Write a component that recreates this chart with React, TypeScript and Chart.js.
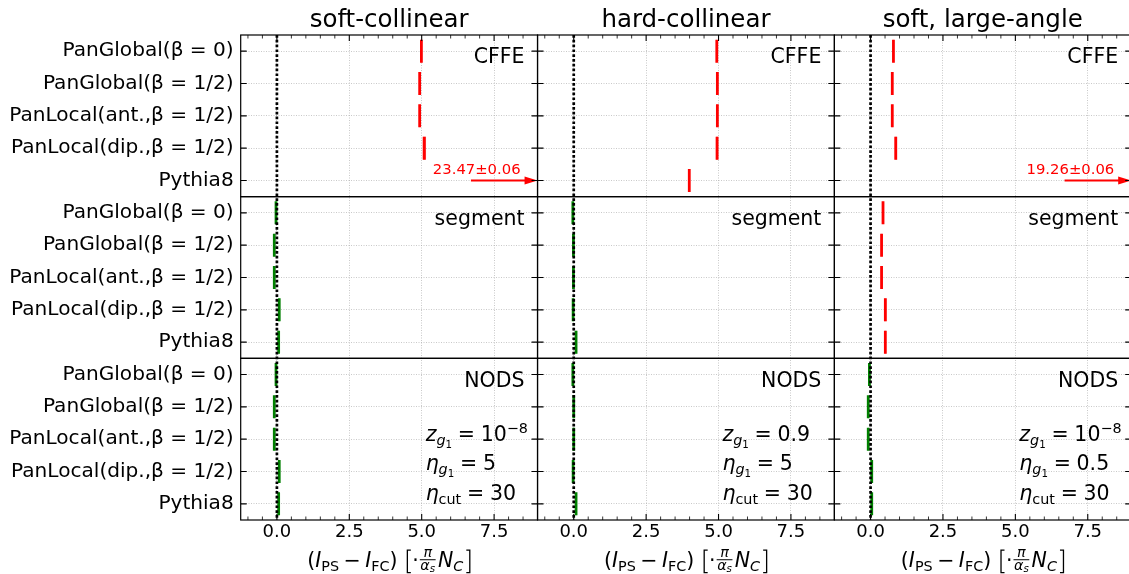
import React, { useEffect, useRef } from 'react';
import { Chart, registerables } from 'chart.js';

Chart.register(...registerables);

const FAM = "'DejaVu Sans', 'Liberation Sans', sans-serif";

// ---- categories / labels ----
const COLUMNS = ['soft-collinear', 'hard-collinear', 'soft, large-angle'];
const ROWS = ['CFFE', 'segment', 'NODS'];
const SHOWERS = [
  'PanGlobal(β = 0)',
  'PanGlobal(β = 1/2)',
  'PanLocal(ant.,β = 1/2)',
  'PanLocal(dip.,β = 1/2)',
  'Pythia8',
];
const X_TICKS = [0, 2.5, 5, 7.5];

// ---- values: (I_PS - I_FC), one array per panel, order = SHOWERS ----
const SOFT_COLL_CFFE = [4.99, 4.93, 4.93, 5.09, 23.47];
const SOFT_COLL_SEGMENT = [-0.03, -0.09, -0.09, 0.08, 0.06];
const SOFT_COLL_NODS = [-0.03, -0.09, -0.09, 0.08, 0.06];
const HARD_COLL_CFFE = [4.94, 4.96, 4.96, 4.95, 3.99];
const HARD_COLL_SEGMENT = [-0.03, -0.01, -0.01, -0.02, 0.08];
const HARD_COLL_NODS = [-0.03, 0.0, 0.0, -0.02, 0.08];
const SOFT_WIDE_CFFE = [0.79, 0.75, 0.75, 0.87, 19.26];
const SOFT_WIDE_SEGMENT = [0.43, 0.38, 0.38, 0.51, 0.51];
const SOFT_WIDE_NODS = [-0.04, -0.08, -0.08, 0.04, 0.04];

// ---- statistical errors ----
const SOFT_COLL_CFFE_ERR = [0.01, 0.01, 0.01, 0.06, 0.06];
const SOFT_COLL_SEGMENT_ERR = [0.01, 0.01, 0.01, 0.03, 0.02];
const SOFT_COLL_NODS_ERR = [0.01, 0.01, 0.01, 0.03, 0.02];
const HARD_COLL_CFFE_ERR = [0.01, 0.01, 0.01, 0.04, 0.01];
const HARD_COLL_SEGMENT_ERR = [0.01, 0.01, 0.01, 0.03, 0.02];
const HARD_COLL_NODS_ERR = [0.01, 0.01, 0.01, 0.03, 0.02];
const SOFT_WIDE_CFFE_ERR = [0.01, 0.01, 0.01, 0.04, 0.06];
const SOFT_WIDE_SEGMENT_ERR = [0.01, 0.01, 0.01, 0.04, 0.02];
const SOFT_WIDE_NODS_ERR = [0.01, 0.01, 0.01, 0.03, 0.02];

const VALUES = [
  [SOFT_COLL_CFFE, SOFT_COLL_SEGMENT, SOFT_COLL_NODS],
  [HARD_COLL_CFFE, HARD_COLL_SEGMENT, HARD_COLL_NODS],
  [SOFT_WIDE_CFFE, SOFT_WIDE_SEGMENT, SOFT_WIDE_NODS],
];
const ERRORS = [
  [SOFT_COLL_CFFE_ERR, SOFT_COLL_SEGMENT_ERR, SOFT_COLL_NODS_ERR],
  [HARD_COLL_CFFE_ERR, HARD_COLL_SEGMENT_ERR, HARD_COLL_NODS_ERR],
  [SOFT_WIDE_CFFE_ERR, SOFT_WIDE_SEGMENT_ERR, SOFT_WIDE_NODS_ERR],
];

const RED = '#ff0000';
const GREEN = '#008000';
const RED_BAND = 'rgba(255,0,0,0.45)';
const GREEN_BAND = 'rgba(0,128,0,0.45)';
// colour of each panel [column][row]
const PANEL_COLORS = [
  [RED, GREEN, GREEN],
  [RED, GREEN, GREEN],
  [RED, RED, GREEN],
];

// NODS cut parameters per column
const Z_G1_BASE = ['10', '0.9', '10'];
const Z_G1_EXP = ['−8', '', '−8'];
const ETA_G1 = ['5', '5', '0.5'];
const ETA_CUT = ['30', '30', '30'];

const X_MIN = -1.25;
const X_MAX = 9;
const MINOR = 0.5;
const MAJOR = 2.5;
const ARROW_FROM = 6.7;
const ARROW_LABEL_X = 6.9;

const FS = 20.5;
const GRID = 'rgba(165,165,165,0.75)';

// text run: t = text, it = italic, s = size factor, dy = baseline shift (em), sp = pure space (em)
type Run = { t?: string; it?: boolean; s?: number; dy?: number; sp?: number };

function runFont(fs: number, r: Run) {
  return `${r.it ? 'italic ' : ''}${(fs * (r.s ?? 1)).toFixed(2)}px ${FAM}`;
}
function runWidth(ctx: CanvasRenderingContext2D, r: Run, fs: number) {
  if (r.sp !== undefined) return r.sp * fs;
  ctx.font = runFont(fs, r);
  return ctx.measureText(r.t ?? '').width;
}
function measureRuns(ctx: CanvasRenderingContext2D, runs: Run[], fs: number) {
  let w = 0;
  for (const r of runs) w += runWidth(ctx, r, fs);
  return w;
}
function drawRuns(ctx: CanvasRenderingContext2D, runs: Run[], x: number, y: number, fs: number) {
  let cx = x;
  for (const r of runs) {
    if (r.sp === undefined) {
      ctx.font = runFont(fs, r);
      ctx.fillText(r.t ?? '', cx, y + (r.dy ?? 0) * fs);
    }
    cx += runWidth(ctx, r, fs);
  }
  return cx;
}

function drawBracket(ctx: CanvasRenderingContext2D, x: number, top: number, bot: number, w: number, left: boolean) {
  ctx.beginPath();
  if (left) {
    ctx.moveTo(x + w, top);
    ctx.lineTo(x, top);
    ctx.lineTo(x, bot);
    ctx.lineTo(x + w, bot);
  } else {
    ctx.moveTo(x - w, top);
    ctx.lineTo(x, top);
    ctx.lineTo(x, bot);
    ctx.lineTo(x - w, bot);
  }
  ctx.stroke();
}

function drawXLabel(ctx: CanvasRenderingContext2D, cx: number, base: number, fs: number) {
  const A: Run[] = [
    { t: '(' },
    { t: 'I', it: true },
    { t: 'PS', s: 0.7, dy: 0.22 },
    { sp: 0.22 },
    { t: '−' },
    { sp: 0.22 },
    { t: 'I', it: true },
    { t: 'FC', s: 0.7, dy: 0.22 },
    { t: ')' },
  ];
  const num: Run[] = [{ t: 'π', it: true, s: 0.7 }];
  const den: Run[] = [
    { t: 'α', it: true, s: 0.7 },
    { t: 's', it: true, s: 0.5, dy: 0.12 },
  ];
  const B: Run[] = [
    { t: 'N', it: true },
    { t: 'C', it: true, s: 0.7, dy: 0.22 },
  ];
  const wA = measureRuns(ctx, A, fs);
  ctx.font = `${fs}px ${FAM}`;
  const wDot = ctx.measureText('·').width;
  const wNum = measureRuns(ctx, num, fs);
  const wDen = measureRuns(ctx, den, fs);
  const wFrac = Math.max(wNum, wDen) + 0.15 * fs;
  const wB = measureRuns(ctx, B, fs);
  const gap = 0.42 * fs;
  const brW = 0.3 * fs;
  const total = wA + gap + brW + wDot + wFrac + 0.06 * fs + wB + 0.08 * fs + brW;
  let x = cx - total / 2;
  x = drawRuns(ctx, A, x, base, fs);
  x += gap;
  const bt = base - 0.8 * fs;
  const bb = base + 0.3 * fs;
  ctx.lineWidth = 1.3;
  ctx.strokeStyle = '#000';
  drawBracket(ctx, x + 0.06 * fs, bt, bb, 0.17 * fs, true);
  x += brW;
  ctx.font = `${fs}px ${FAM}`;
  ctx.fillText('·', x, base);
  x += wDot;
  const barY = base - 0.33 * fs;
  ctx.fillRect(x + 0.05 * fs, barY - 0.5, wFrac - 0.1 * fs, 1);
  drawRuns(ctx, num, x + (wFrac - wNum) / 2, barY - 0.12 * fs, fs);
  drawRuns(ctx, den, x + (wFrac - wDen) / 2, barY + 0.5 * fs, fs);
  x += wFrac + 0.06 * fs;
  x = drawRuns(ctx, B, x, base, fs);
  x += 0.08 * fs;
  drawBracket(ctx, x + brW - 0.06 * fs, bt, bb, 0.17 * fs, false);
}

const EQ: Run[] = [{ sp: 0.28 }, { t: '=' }, { sp: 0.28 }];

const decor = {
  id: 'decor',
  afterDatasetsDraw(chart: any) {
    const ctx: CanvasRenderingContext2D = chart.ctx;
    const ca = chart.chartArea;
    ctx.save();
    COLUMNS.forEach((_, c) => {
      const xs = chart.scales['x' + c];
      const px = xs.getPixelForValue(0);
      ctx.strokeStyle = '#000';
      ctx.lineWidth = 2.7;
      ctx.setLineDash([2.7, 2.1]);
      ctx.beginPath();
      ctx.moveTo(px, ca.top);
      ctx.lineTo(px, ca.bottom);
      ctx.stroke();
      ctx.setLineDash([]);
      ROWS.forEach((__, r) => {
        const ys = chart.scales['y' + r];
        const color = PANEL_COLORS[c][r];
        VALUES[c][r].forEach((v, i) => {
          if (v <= X_MAX) return;
          const y = ys.getPixelForValue(i);
          const x1 = xs.getPixelForValue(ARROW_FROM);
          const x2 = xs.right;
          ctx.save();
          ctx.beginPath();
          ctx.rect(xs.left, ys.top, xs.right - xs.left, ys.bottom - ys.top);
          ctx.clip();
          ctx.strokeStyle = color;
          ctx.fillStyle = color;
          ctx.lineWidth = 2.2;
          ctx.beginPath();
          ctx.moveTo(x1, y);
          ctx.lineTo(x2 - 11, y);
          ctx.stroke();
          ctx.beginPath();
          ctx.moveTo(x2, y);
          ctx.lineTo(x2 - 13, y - 4);
          ctx.lineTo(x2 - 13, y + 4);
          ctx.closePath();
          ctx.fill();
          ctx.restore();
          ctx.fillStyle = color;
          ctx.font = `14.8px ${FAM}`;
          ctx.textAlign = 'center';
          ctx.textBaseline = 'alphabetic';
          ctx.fillText(
            `${v.toFixed(2)}±${ERRORS[c][r][i].toFixed(2)}`,
            xs.getPixelForValue(ARROW_LABEL_X),
            y - 7
          );
        });
      });
    });
    ctx.restore();
  },
  afterDraw(chart: any) {
    const ctx: CanvasRenderingContext2D = chart.ctx;
    ctx.save();
    const xsA = COLUMNS.map((_, c) => chart.scales['x' + c]);
    const ysA = ROWS.map((_, r) => chart.scales['y' + r]);
    ctx.strokeStyle = '#000';
    ctx.fillStyle = '#000';
    ctx.setLineDash([]);
    xsA.forEach((xs) =>
      ysA.forEach((ys) => {
        ctx.lineWidth = 1.2;
        ctx.strokeRect(xs.left, ys.top, xs.right - xs.left, ys.bottom - ys.top);
        ctx.lineWidth = 1.1;
        ctx.beginPath();
        SHOWERS.forEach((__, i) => {
          const y = ys.getPixelForValue(i);
          ctx.moveTo(xs.left, y);
          ctx.lineTo(xs.left + 6, y);
          ctx.moveTo(xs.right - 6, y);
          ctx.lineTo(xs.right, y);
        });
        ctx.stroke();
      })
    );
    const top = ysA[0].top;
    const bot = ysA[ysA.length - 1].bottom;
    xsA.forEach((xs) => {
      for (let k = Math.ceil(X_MIN / MINOR); k * MINOR < X_MAX; k++) {
        const v = k * MINOR;
        const major = Math.abs(v / MAJOR - Math.round(v / MAJOR)) < 1e-9;
        const len = major ? 6 : 3.5;
        const x = xs.getPixelForValue(v);
        ctx.lineWidth = major ? 1.1 : 0.8;
        ctx.beginPath();
        ctx.moveTo(x, top);
        ctx.lineTo(x, top + len);
        ctx.moveTo(x, bot);
        ctx.lineTo(x, bot - len);
        ctx.stroke();
      }
    });
    ctx.textBaseline = 'alphabetic';
    xsA.forEach((xs, c) => {
      const cx = (xs.left + xs.right) / 2;
      ctx.textAlign = 'center';
      ctx.font = `24.5px ${FAM}`;
      ctx.fillText(COLUMNS[c], cx, top - 8.3);
      ctx.textAlign = 'right';
      ctx.font = `${FS}px ${FAM}`;
      ysA.forEach((ys, r) => {
        ctx.fillText(ROWS[r], xs.right - 13, ys.top + 28.4);
      });
      ctx.textAlign = 'left';
      const ys = ysA[2];
      const lx = xs.left + 0.623 * (xs.right - xs.left);
      const zRuns: Run[] = [
        { t: 'z', it: true },
        { t: 'g', it: true, s: 0.7, dy: 0.2 },
        { t: '1', s: 0.5, dy: 0.33 },
        ...EQ,
        { t: Z_G1_BASE[c] },
      ];
      if (Z_G1_EXP[c]) zRuns.push({ t: Z_G1_EXP[c], s: 0.7, dy: -0.42 });
      drawRuns(ctx, zRuns, lx, ys.top + 83, FS);
      drawRuns(
        ctx,
        [
          { t: 'η', it: true },
          { t: 'g', it: true, s: 0.7, dy: 0.2 },
          { t: '1', s: 0.5, dy: 0.33 },
          ...EQ,
          { t: ETA_G1[c] },
        ],
        lx,
        ys.top + 112,
        FS
      );
      drawRuns(
        ctx,
        [{ t: 'η', it: true }, { t: 'cut', s: 0.7, dy: 0.2 }, ...EQ, { t: ETA_CUT[c] }],
        lx,
        ys.top + 141.7,
        FS
      );
      drawXLabel(ctx, cx, 566.5, FS);
    });
    ctx.restore();
  },
};

export default function App() {
  const ref = useRef<HTMLCanvasElement>(null);
  useEffect(() => {
    document.body.style.margin = '0';
    const datasets: any[] = [];
    COLUMNS.forEach((_, c) => {
      ROWS.forEach((__, r) => {
        const color = PANEL_COLORS[c][r];
        datasets.push({
          type: 'line',
          label: `${COLUMNS[c]} ${ROWS[r]}`,
          xAxisID: 'x' + c,
          yAxisID: 'y' + r,
          data: VALUES[c][r].map((v, i) => ({ x: v, y: SHOWERS[i] })),
          showLine: false,
          pointStyle: 'line',
          pointRotation: 90,
          pointRadius: 11.5,
          pointHoverRadius: 11.5,
          pointBorderWidth: 2.8,
          pointBorderColor: color,
          pointBackgroundColor: color,
          clip: 0,
          order: 1,
        });
        datasets.push({
          type: 'bar',
          indexAxis: 'y',
          label: `${COLUMNS[c]} ${ROWS[r]} err`,
          xAxisID: 'x' + c,
          yAxisID: 'y' + r,
          data: VALUES[c][r].map((v, i) => [v - ERRORS[c][r][i], v + ERRORS[c][r][i]]),
          backgroundColor: color === RED ? RED_BAND : GREEN_BAND,
          borderWidth: 0,
          grouped: false,
          barPercentage: 0.7,
          categoryPercentage: 1,
          clip: 0,
          order: 2,
        });
      });
    });
    const scales: any = {};
    COLUMNS.forEach((_, c) => {
      scales['x' + c] = {
        type: 'linear',
        axis: 'x',
        position: 'bottom',
        stack: 'xs',
        stackWeight: 1,
        weight: c + 1,
        min: X_MIN,
        max: X_MAX,
        offset: false,
        beginAtZero: false,
        afterBuildTicks: (s: any) => {
          s.ticks = X_TICKS.map((v) => ({ value: v }));
        },
        ticks: {
          stepSize: MAJOR,
          includeBounds: false,
          autoSkip: false,
          maxRotation: 0,
          padding: 2,
          color: '#000',
          font: { family: FAM, size: 18 },
          callback: (v: any) => Number(v).toFixed(1),
        },
        grid: { color: GRID, lineWidth: 0.8, drawTicks: false, offset: false },
        border: { display: false, dash: [1, 1.5] },
        afterFit: (s: any) => {
          s.height = 54;
        },
      };
    });
    ROWS.forEach((_, r) => {
      scales['y' + r] = {
        type: 'category',
        axis: 'y',
        position: 'left',
        stack: 'ys',
        stackWeight: 1,
        weight: ROWS.length - r,
        labels: SHOWERS,
        offset: true,
        ticks: {
          autoSkip: false,
          padding: 7,
          color: '#000',
          font: { family: FAM, size: 20.1 },
        },
        grid: { color: GRID, lineWidth: 0.8, drawTicks: false, offset: false },
        border: { display: false, dash: [1, 1.5] },
        afterFit: (s: any) => {
          s.width = 240.7;
        },
      };
    });
    const chart = new Chart(ref.current as HTMLCanvasElement, {
      type: 'bar',
      data: { datasets },
      options: {
        animation: false,
        responsive: false,
        devicePixelRatio: 1,
        events: [],
        layout: { autoPadding: false, padding: { top: 35, right: 8.8, bottom: 0, left: 0 } },
        plugins: { legend: { display: false }, tooltip: { enabled: false }, title: { display: false } },
        scales,
      } as any,
      plugins: [decor],
    } as any);
    return () => chart.destroy();
  }, []);
  return (
    <div
      style={{
        position: 'fixed',
        left: 0,
        top: 0,
        width: 1129,
        height: 574,
        overflow: 'hidden',
        background: '#fff',
      }}
    >
      <canvas ref={ref} width={1140} height={574} style={{ display: 'block' }} />
    </div>
  );
}
